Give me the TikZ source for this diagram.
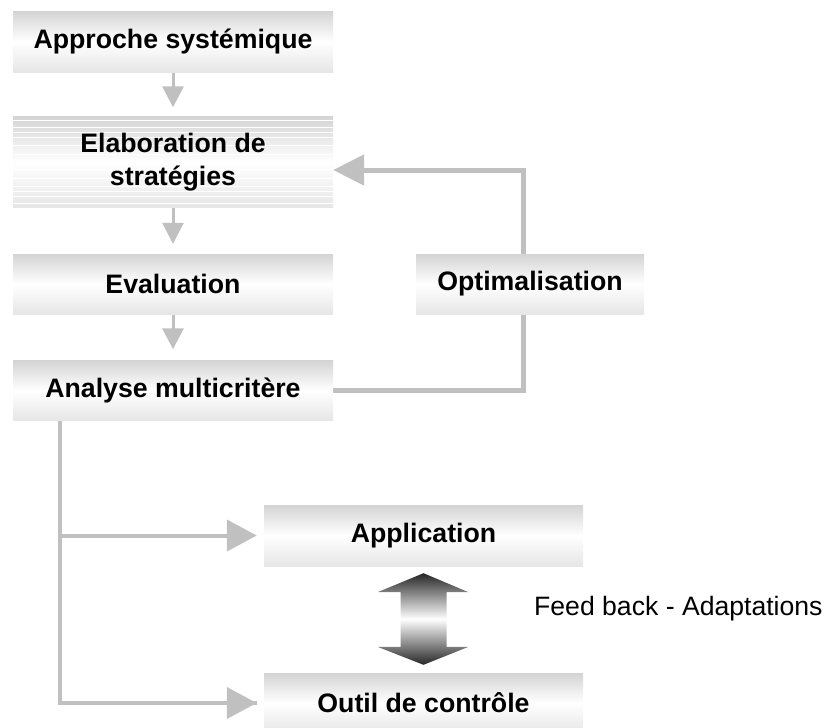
\documentclass[tikz,border=0pt]{standalone}
\usepackage{fontspec}
\setmainfont{Liberation Sans}
\usetikzlibrary{arrows.meta,calc,backgrounds}
\definecolor{connc}{HTML}{C0C0C0}
\definecolor{boxtop}{HTML}{D4D4D4}
\definecolor{boxbot}{HTML}{E6E6E6}
\begin{document}
\begin{tikzpicture}[x=1pt,y=-1pt,
  box/.style={rectangle, inner sep=0pt, top color=boxtop, bottom color=boxbot,
    middle color=white, text=black, align=center,
    font=\fontsize{26.7}{33}\selectfont\bfseries},
  stripes/.style={path picture={
    \foreach \o in {4,11,16,21,29,38} {
      \draw[white,line width=1.1pt]
        ([yshift=-\o pt]path picture bounding box.north west) --
        ([yshift=-\o pt]path picture bounding box.north east);
      \draw[white,line width=1.1pt]
        ([yshift=\o pt]path picture bounding box.south west) --
        ([yshift=\o pt]path picture bounding box.south east);
    }}},
  thinarrow/.style={draw=connc, line width=3pt,
    -{Triangle[width=21pt,length=21pt,color=connc]}},
  loopline/.style={draw=connc, line width=5pt, line join=miter,
    -{Triangle[width=30pt,length=31pt,color=connc]}},
  trunk/.style={draw=connc, line width=4pt, line join=miter},
  branch/.style={draw=connc, line width=4pt,
    -{Triangle[width=31pt,length=30pt,color=connc]}},
  plain/.style={font=\fontsize{26.6}{29}\selectfont, text=black, inner sep=0pt}
]
\useasboundingbox (0,0) rectangle (828,728);

% main column
\node[box, minimum width=320pt, minimum height=61pt] (ap) at (173,41.5) {Approche systémique};
\node[box, stripes, minimum width=320pt, minimum height=91pt] (el) at (173,162) {Elaboration de\\stratégies};
\node[box, minimum width=320pt, minimum height=60pt] (ev) at (173,284) {Evaluation};
\node[box, minimum width=320pt, minimum height=60pt] (an) at (173,390.5) {Analyse multicritère};

% side and lower boxes
\node[box, minimum width=228pt, minimum height=60pt] (op) at (530,284) {Optimalisation};
\node[box, minimum width=319pt, minimum height=61pt] (app) at (423.5,535.5) {Application};
\node[box, minimum width=319pt, minimum height=60pt] (out) at (423.5,703) {Outil de contrôle};

\node[plain, anchor=base west] (fb) at (534,615) {Feed back - Adaptations};

% helper points for the routed connectors
\coordinate (loopx) at (523,0);
\coordinate (trunkx) at (60,0);

\begin{scope}[on background layer]
  \draw[thinarrow, shorten >=9pt] (ap.south) -- (el.north);
  \draw[thinarrow, shorten >=10pt] (el.south) -- (ev.north);
  \draw[thinarrow, shorten >=11pt] (ev.south) -- (an.north);
  % optimisation feedback loop
  \draw[loopline] (an.east) -- (an.east -| loopx) |- ([yshift=-8pt]el.east);
  % distribution trunk
  \draw[trunk] (an.south -| trunkx) -- (out.west -| trunkx) -- ([xshift=-7pt]out.west);
  \draw[branch, shorten >=7pt] (out.west -| trunkx) -- (out.west);
  \draw[branch, shorten >=7pt] (app.west -| trunkx) -- (app.west);
\end{scope}

% shaded double arrow between application and control
\coordinate (dt) at ($(app.south)+(0,7)$);
\coordinate (db) at ($(out.north)+(0,-8)$);
\shade[top color=black!85, bottom color=black!85, middle color=white]
  (dt) -- ($(dt)+(45,19)$) -- ($(dt)+(23,19)$) -- ($(db)+(23,-18)$) -- ($(db)+(45,-18)$)
  -- (db) -- ($(db)+(-46,-18)$) -- ($(db)+(-23,-18)$) -- ($(dt)+(-23,19)$)
  -- ($(dt)+(-46,19)$) -- cycle;
\end{tikzpicture}
\end{document}
